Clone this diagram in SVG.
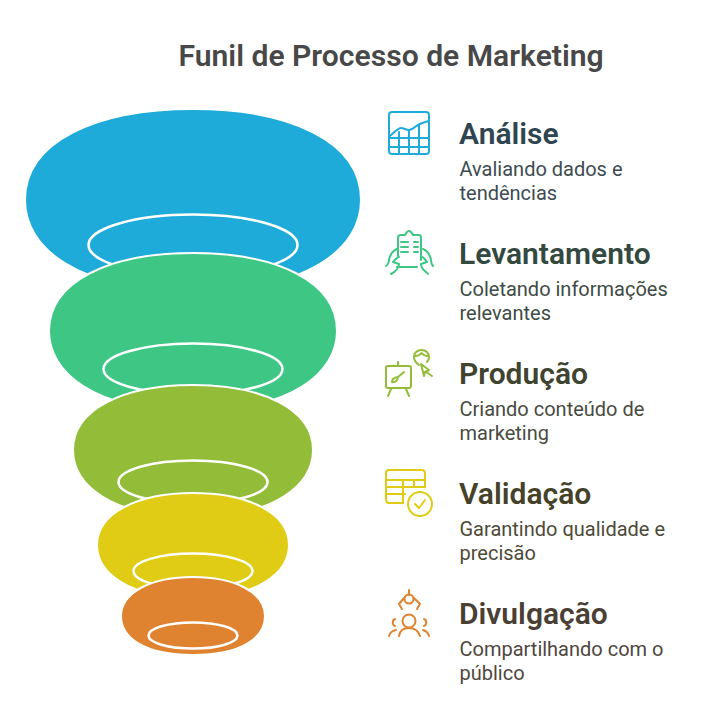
<svg xmlns="http://www.w3.org/2000/svg" width="723" height="710" viewBox="0 0 723 710">
<style>
text{font-family:Roboto,"Liberation Sans",sans-serif}
.t{font-size:30.100px;font-weight:600;fill:#484848}
.h{font-size:30px;font-weight:600}
.d{font-size:20px}
.s{stroke:#fff;stroke-width:2}
.e{fill:none;stroke:#fff;stroke-width:2.500}
.i{fill:none;stroke-width:2;stroke-linecap:round;stroke-linejoin:round}
</style>
<rect width="723" height="710" fill="#fff"/>
<text class="t" x="178.500" y="66">Funil de Processo de Marketing</text>
<g id="funnel-analise">
<path class="s" fill="#1eabda" d="M25,200C25,141 97,109 193,109C289,109 361,141 361,200C361,247 311,291 193,291C75,291 25,247 25,200Z"/>
<ellipse class="e" cx="193" cy="245" rx="104.500" ry="30.500"/>
</g>
<g id="funnel-levantamento">
<path class="s" fill="#3ec685" d="M49,331C49,281 110,253 193,253C276,253 337,281 337,331C337,372 293,411 193,411C93,411 49,372 49,331Z"/>
<ellipse class="e" cx="193" cy="369" rx="89.500" ry="25.500"/>
</g>
<g id="funnel-producao">
<path class="s" fill="#93bd39" d="M73,450C73,409 124,385 193,385C262,385 313,409 313,450C313,484 276,517 193,517C110,517 73,484 73,450Z"/>
<ellipse class="e" cx="193" cy="482" rx="74.500" ry="21.500"/>
</g>
<g id="funnel-validacao">
<path class="s" fill="#e0cc15" d="M97,545C97,513 138,493 193,493C248,493 289,513 289,545C289,572 259,598 193,598C127,598 97,572 97,545Z"/>
<ellipse class="e" cx="193" cy="571" rx="59.500" ry="17.500"/>
</g>
<g id="funnel-divulgacao">
<path class="s" fill="#e08330" d="M121,616C121,592 152,577 193,577C234,577 265,592 265,616C265,637 243,655 193,655C143,655 121,637 121,616Z"/>
<ellipse class="e" cx="193" cy="635.500" rx="44.500" ry="13"/>
</g>
<g id="step-analise">
<g class="i" stroke="#1eabda">
<rect x="389" y="112" width="40" height="42" rx="3"/>
<path d="M390,136C395,132 398,128 401,128C404,128 406,130 409,130C413,130 416,125 420,124C424,122 426,122 429,121"/>
<path d="M390,138H429M390,147H429M399,132V154M409,131V154M419,125V154"/>
</g>
<text class="h" x="459" y="144" fill="#2f4550">Análise</text>
<text class="d" x="459.500" y="176" fill="#3d4b52">Avaliando dados e</text>
<text class="d" x="459.500" y="200" fill="#3d4b52">tendências</text>
</g>
<g id="step-levantamento">
<g class="i" stroke="#3ec685">
<path d="M398,257V238C398,236 399,235 401,235H405C406,233 407,231 409,231C411,231 412,233 413,235H419C420,235 421,236 421,238V260"/>
<path d="M401,242H408M401,247H408M401,252H408M414,242H418M414,247H418M414,252H418"/>
<path d="M397,267H417"/>
<path d="M397,249C392,251 390,255 389,260C389,263 387,266 386,266M399,257C397,257 395,260 393,262L399,264C399,268 395,272 391,274"/>
<path d="M423,249C428,251 430,255 431,260C431,263 432,265 433,266M422,257C424,257 425,260 427,262L421,264C421,270 426,271 428,274"/>
</g>
<text class="h" x="459" y="264" fill="#33483f">Levantamento</text>
<text class="d" x="459.500" y="296" fill="#3f4b45">Coletando informações</text>
<text class="d" x="459.500" y="320" fill="#3f4b45">relevantes</text>
</g>
<g id="step-producao">
<g class="i" stroke="#93bd39">
<rect x="386" y="366" width="25" height="22" rx="2"/>
<path d="M398,362V366M391,389L388,396M406,389L409,396"/>
<path d="M392,382C392,379 395,377 398,377C398,380 395,383 392,382ZM398,377L404,372"/>
<path d="M419,365C416,363 414,360 414,357C414,353 417,350 421.500,350C426,350 429,353 429,357C429,359 428,361 427,362"/>
<path d="M415,356C418,356 420,355 421.500,353C423,355 425,356 428,356"/>
<path d="M421,364L429,370L425,372L424,376ZM426,372L432,376"/>
</g>
<text class="h" x="459" y="384" fill="#3f4430">Produção</text>
<text class="d" x="459.500" y="416" fill="#494b3f">Criando conteúdo de</text>
<text class="d" x="459.500" y="440" fill="#494b3f">marketing</text>
</g>
<g id="step-validacao">
<g class="i" stroke="#e0cc15">
<path d="M425,487V474C425,472 424,470 422,470H389C387,470 386,472 386,474V499C386,502 387,503 389,503H403"/>
<path d="M386,480H425M386,494H405M403,480V503M414,480V487M386,487H425"/>
<circle cx="420" cy="504" r="12"/>
<path d="M415,504L419,508L425,500"/>
</g>
<text class="h" x="459" y="504" fill="#46422a">Validação</text>
<text class="d" x="459.500" y="536" fill="#4d4a38">Garantindo qualidade e</text>
<text class="d" x="459.500" y="560" fill="#4d4a38">precisão</text>
</g>
<g id="step-divulgacao">
<g class="i" stroke="#e08330">
<path d="M409,590V595"/>
<circle cx="409" cy="599" r="4.500"/>
<path d="M404,598L399,604L402,609M414,598L420,604L417,609"/>
<circle cx="409" cy="621" r="6.500"/>
<path d="M399,636C400,630 404,628 409,628C414,628 418,630 420,636"/>
<path d="M395,619C392,620 392,625 395,626M424,619C427,620 427,625 424,626"/>
<path d="M389,636C390,632 392,631 396,630M429,636C428,632 426,631 423,630"/>
</g>
<text class="h" x="459" y="624" fill="#4a3f35">Divulgação</text>
<text class="d" x="459.500" y="656" fill="#4f4740">Compartilhando com o</text>
<text class="d" x="459.500" y="680" fill="#4f4740">público</text>
</g>
</svg>
